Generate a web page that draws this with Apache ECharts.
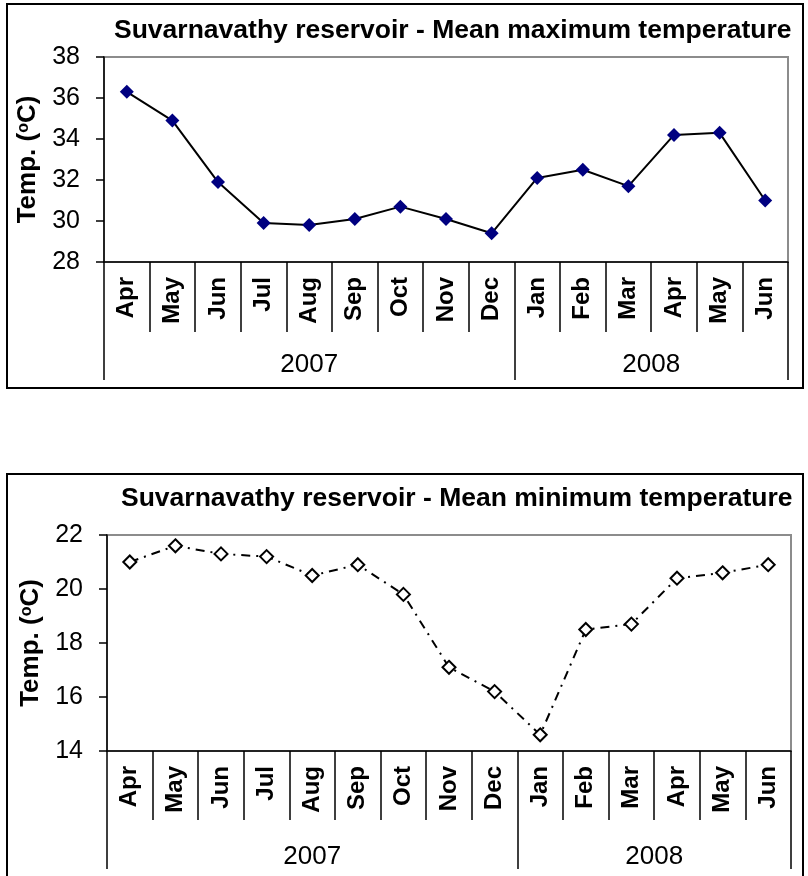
<!DOCTYPE html>
<html>
<head>
<meta charset="utf-8">
<script src="https://cdn.jsdelivr.net/npm/echarts@6/dist/echarts.min.js"></script>
<style>
html,body{margin:0;padding:0;background:#fff;}
#chart{width:808px;height:876px;}
</style>
</head>
<body>
<div id="chart"></div>
<script>
// ---- data ----
const months = ['Apr','May','Jun','Jul','Aug','Sep','Oct','Nov','Dec','Jan','Feb','Mar','Apr','May','Jun'];
const years = ['2007','2008'];
const yearSpans = [9, 6];
const maxTemp = [36.3, 34.9, 31.9, 29.9, 29.8, 30.1, 30.7, 30.1, 29.4, 32.1, 32.5, 31.7, 34.2, 34.3, 31.0];
const minTemp = [21.0, 21.6, 21.3, 21.2, 20.5, 20.9, 19.8, 17.1, 16.2, 14.6, 18.5, 18.7, 20.4, 20.6, 20.9];
const maxTicks = [28, 38, 2];
const minTicks = [14, 22, 2];
const title1 = 'Suvarnavathy reservoir - Mean maximum temperature';
const title2 = 'Suvarnavathy reservoir - Mean minimum temperature';

// ---- build year axis (half-month resolution) ----
const halfN = months.length * 2 + 1;
const yearData = new Array(halfN).fill('');
const yearLabelIdx = [];
const yearTickIdx = [0];
let start = 0;
years.forEach((y, i) => {
  const mid = start * 2 + yearSpans[i];
  yearData[mid] = y;
  yearLabelIdx.push(mid);
  start += yearSpans[i];
  yearTickIdx.push(start * 2);
});

const FONT = "'Liberation Sans', Arial, sans-serif";

function monthAxis(gridIndex, tickLen) {
  return {
    type: 'category', gridIndex, position: 'bottom', data: months, boundaryGap: true,
    axisLine: {show: true, lineStyle: {color: '#000', width: 1.5}},
    axisTick: {show: true, interval: 0, length: tickLen, lineStyle: {color: '#000', width: 1.5}},
    axisLabel: {interval: 0, rotate: 90, margin: 15, color: '#000', fontSize: 24, fontWeight: 'bold', fontFamily: FONT},
    splitLine: {show: false}
  };
}
function yearAxis(gridIndex, tickLen, margin) {
  return {
    type: 'category', gridIndex, position: 'bottom', data: yearData, boundaryGap: false,
    axisLine: {show: false},
    axisTick: {show: true, length: tickLen, interval: (i) => yearTickIdx.indexOf(i) >= 0, lineStyle: {color: '#000', width: 1.5}},
    axisLabel: {interval: (i) => yearLabelIdx.indexOf(i) >= 0, margin: margin, color: '#000', fontSize: 26, fontFamily: FONT},
    splitLine: {show: false}
  };
}
function valAxis(gridIndex, t) {
  return {
    type: 'value', gridIndex, min: t[0], max: t[1], interval: t[2],
    name: 'Temp. ({sup|o}C)', nameLocation: 'middle', nameRotate: 90, nameGap: 58,
    nameTextStyle: {color: '#000', fontSize: 26, fontWeight: 'bold', fontFamily: FONT,
      rich: {sup: {fontSize: 16, fontWeight: 'bold', fontFamily: FONT, color: '#000', verticalAlign: 'top', padding: [0, 0, 9, 0]}}},
    axisLine: {show: true, lineStyle: {color: '#000', width: 1.5}},
    axisTick: {show: true, length: 8, lineStyle: {color: '#000', width: 1.5}},
    axisLabel: {margin: 24, color: '#000', fontSize: 25, fontFamily: FONT},
    splitLine: {show: false}
  };
}

const chart = echarts.init(document.getElementById('chart'), null, {renderer: 'canvas'});
chart.setOption({
  animation: false,
  backgroundColor: '#fff',
  title: [
    {text: title1, left: 109, top: 12, textStyle: {color: '#000', fontSize: 26.5, fontWeight: 'bold', fontFamily: FONT}},
    {text: title2, left: 116, top: 480, textStyle: {color: '#000', fontSize: 26.5, fontWeight: 'bold', fontFamily: FONT}}
  ],
  graphic: [
    {type: 'rect', shape: {x: 7, y: 4, width: 796, height: 384}, style: {fill: null, stroke: '#000', lineWidth: 2}, silent: true},
    {type: 'rect', shape: {x: 7, y: 474, width: 796, height: 420}, style: {fill: null, stroke: '#000', lineWidth: 2}, silent: true}
  ],
  grid: [
    {left: 104, top: 57, width: 684, height: 205, show: true, borderColor: '#8c8c8c', borderWidth: 2, backgroundColor: '#fff'},
    {left: 107, top: 535, width: 684, height: 216, show: true, borderColor: '#8c8c8c', borderWidth: 2, backgroundColor: '#fff'}
  ],
  xAxis: [monthAxis(0, 70), yearAxis(0, 118, 90), monthAxis(1, 69), yearAxis(1, 118, 93)],
  yAxis: [valAxis(0, maxTicks), valAxis(1, minTicks)],
  series: [
    {type: 'line', xAxisIndex: 0, yAxisIndex: 0, data: maxTemp,
     symbol: 'diamond', symbolSize: 14, showAllSymbol: true,
     lineStyle: {color: '#000', width: 2},
     itemStyle: {color: '#000080', borderWidth: 0}},
    {type: 'line', xAxisIndex: 2, yAxisIndex: 1, data: minTemp,
     symbol: 'diamond', symbolSize: 13, showAllSymbol: true,
     lineStyle: {color: '#000', width: 2, type: [9, 6, 2, 6]},
     itemStyle: {color: '#fff', borderColor: '#000', borderWidth: 2}}
  ]
});
</script>
</body>
</html>
